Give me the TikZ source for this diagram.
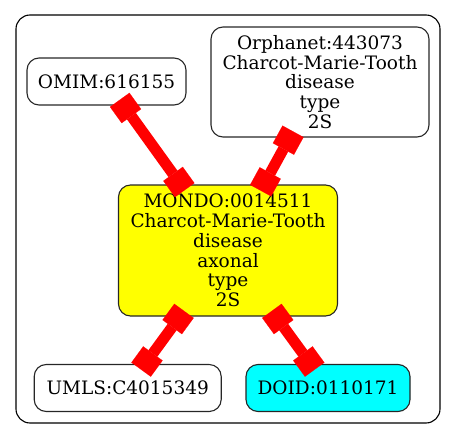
\documentclass[tikz,border=0pt]{standalone}
\usepackage{fontspec}
\setmainfont{DejaVu Serif}
\usetikzlibrary{arrows.meta}
\definecolor{mondoyellow}{RGB}{255,255,0}
\definecolor{doidcyan}{RGB}{0,255,255}
\definecolor{edgered}{RGB}{255,0,0}
\tikzset{
  nbox/.style={draw=black!85, line width=1.1pt, rounded corners=12pt, inner sep=0pt, align=center,
    font=\fontsize{18.5}{19.7}\selectfont},
  rel/.style={draw=edgered, line width=11pt,
    {Square[length=20pt,width=24pt,line width=0.1pt]}-{Square[length=20pt,width=24pt,line width=0.1pt]},
    shorten <=-7pt, shorten >=-7pt},
  cluster/.style={draw=black, line width=1.1pt, rounded corners=14pt}
}
\begin{document}
\begin{tikzpicture}[x=1pt,y=-1pt]
\useasboundingbox (0,0) rectangle (456,439);
\draw[cluster] (16,15) rectangle (440,423);
\node[nbox, minimum width=159pt, minimum height=47pt] (omim) at (106.5,81.5) {OMIM:616155};
\node[nbox, minimum width=218pt, minimum height=110pt] (orpha) at (320,82) {Orphanet:443073\\Charcot-Marie-Tooth\\disease\\type\\2S};
\node[nbox, fill=mondoyellow, minimum width=219pt, minimum height=131pt] (mondo) at (228,250.5) {MONDO:0014511\\Charcot-Marie-Tooth\\disease\\axonal\\type\\2S};
\node[nbox, minimum width=187pt, minimum height=47pt] (umls) at (127.7,388) {UMLS:C4015349};
\node[nbox, fill=doidcyan, minimum width=164pt, minimum height=47pt] (doid) at (328,388) {DOID:0110171};
\draw[rel] (omim) -- (mondo);
\draw[rel] (orpha) -- (mondo);
\draw[rel] (mondo) -- (umls);
\draw[rel] (mondo) -- (doid);
\end{tikzpicture}
\end{document}
